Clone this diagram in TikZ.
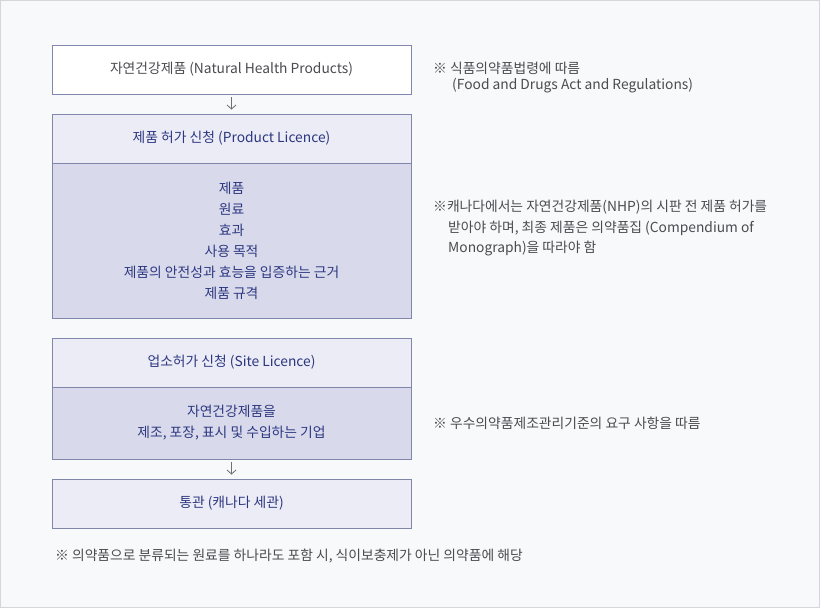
\documentclass[tikz,border=0pt]{standalone}
\usepackage{fontspec}
\setmainfont{Noto Sans CJK KR}
\usetikzlibrary{arrows.meta}
\definecolor{sfondo}{RGB}{247,249,251}
\definecolor{cornice}{RGB}{212,214,220}
\definecolor{bordo}{RGB}{128,134,172}
\definecolor{chiaro}{RGB}{235,236,246}
\definecolor{scuro}{RGB}{216,218,235}
\definecolor{blu}{RGB}{45,55,128}
\definecolor{grigio}{RGB}{75,75,80}
\begin{document}
\begin{tikzpicture}[x=1pt, y=-1pt, font=\fontsize{13.8}{21}\selectfont,
  box/.style={draw=bordo, line width=0.9pt, minimum width=359pt, inner sep=0pt, align=center, text=blu},
  nota/.style={anchor=west, inner sep=0pt, align=left, text=grigio},
  freccia/.style={-{Straight Barb[length=4pt,width=9pt]}, draw=grigio!80, line width=0.8pt, shorten <=3pt, shorten >=4pt}]

\useasboundingbox (0,0) rectangle (820,608);
\fill[sfondo] (0,0) rectangle (820,608);
\draw[cornice, line width=1pt] (0.5,0.5) rectangle (819.5,607.5);

\node[box, fill=white, text=grigio, minimum height=49pt] (a0) at (231.5,69.5) {자연건강제품 (Natural Health Products)};
\node[box, fill=chiaro, minimum height=49pt] (a1) at (231.5,138.5) {제품 허가 신청 (Product Licence)};
\node[box, fill=scuro, minimum height=155pt] (a2) at (231.5,240.5) {제품\\원료\\효과\\사용 목적\\제품의 안전성과 효능을 입증하는 근거\\제품 규격};

\node[box, fill=chiaro, minimum height=49pt] (a3) at (231.5,362.5) {업소허가 신청 (Site Licence)};
\node[box, fill=scuro, minimum height=72pt] (a4) at (231.5,423) {자연건강제품을\\제조, 포장, 표시 및 수입하는 기업};
\node[box, fill=chiaro, minimum height=49pt] (a5) at (231.5,503.5) {통관 (캐나다 세관)};

\draw[freccia] (a0.south)--(a1.north);
\draw[freccia] (a4.south)--(a5.north);

\node[nota, font=\fontsize{13.8}{16}\selectfont] (b) at (433,78) {※ 식품의약품법령에 따름\\\hspace*{19pt}(Food and Drugs Act and Regulations)};
\node[nota, font=\fontsize{13.8}{20.5}\selectfont] (c) at (433,228.5) {※캐나다에서는 자연건강제품(NHP)의 시판 전 제품 허가를\\\hspace*{15pt}받아야 하며, 최종 제품은 의약품집 (Compendium of\\\hspace*{15pt}Monograph)을 따라야 함};
\node[nota] (d) at (433,423) {※ 우수의약품제조관리기준의 요구 사항을 따름};
\node[nota] (e) at (55,556) {※ 의약품으로 분류되는 원료를 하나라도 포함 시, 식이보충제가 아닌 의약품에 해당};
\end{tikzpicture}
\end{document}
